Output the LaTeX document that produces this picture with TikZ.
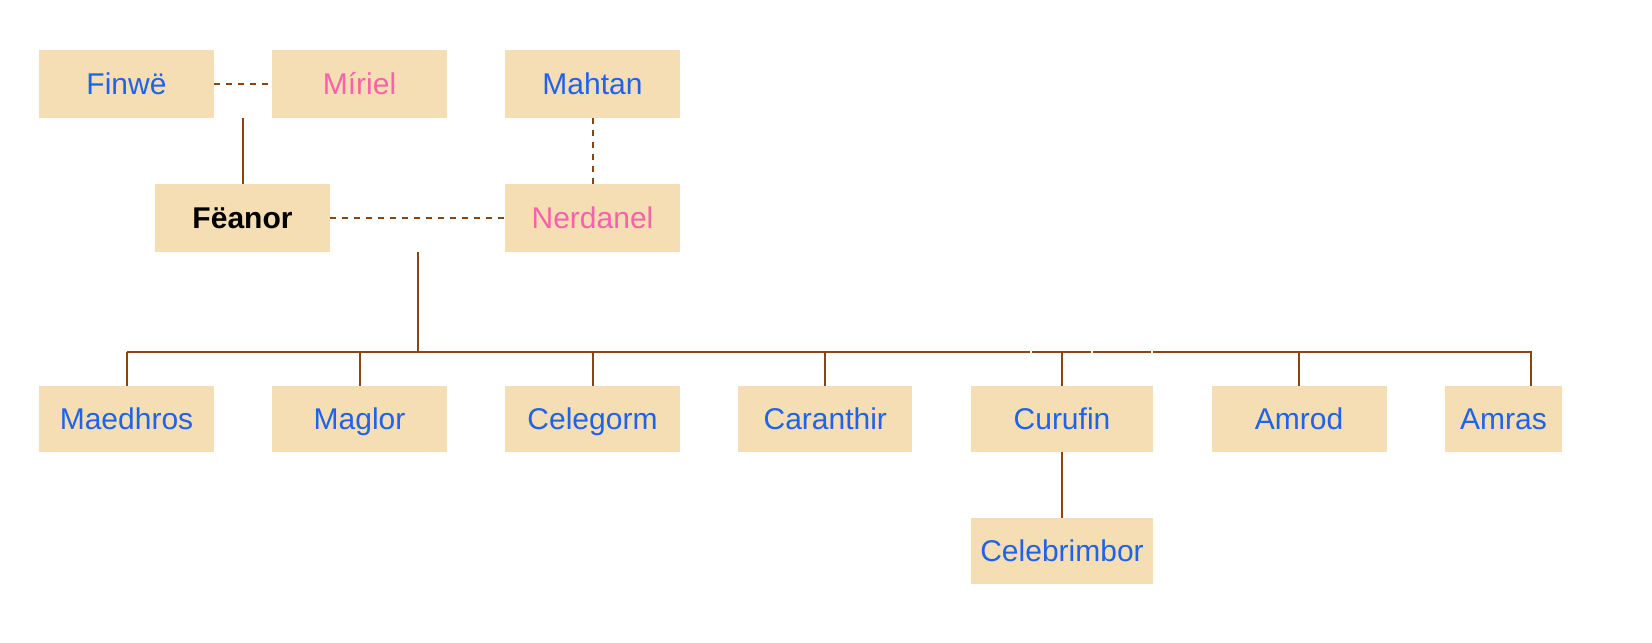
\documentclass[tikz,border=0pt]{standalone}
\usepackage{fontspec}
\setmainfont{Liberation Sans}
\usetikzlibrary{calc}
\definecolor{boxfill}{RGB}{245,222,179}
\definecolor{nameblue}{RGB}{30,99,233}
\definecolor{namepink}{RGB}{247,98,172}
\definecolor{linkbrown}{RGB}{139,69,19}
\tikzset{
  person/.style={fill=boxfill, inner sep=0pt, minimum width=87.5pt, minimum height=33.85pt,
    text height=10.7pt, text depth=0pt,
    text=nameblue, font=\fontsize{15}{18}\selectfont},
  child/.style={person, minimum height=32.85pt},
  female/.style={text=namepink},
  link/.style={draw=linkbrown, line width=1pt},
  partner/.style={link, dash pattern=on 3pt off 3pt},
}
\begin{document}
\begin{tikzpicture}[x=0.5pt,y=-0.5pt]
\useasboundingbox (0,0) rectangle (1652,642);
% parents
\node[person] (finwe) at (126.5,83.8) {Finwë};
\node[person,female] (miriel) at (359.5,83.8) {Míriel};
\node[person] (mahtan) at (592.5,83.8) {Mahtan};
\node[person,text=black,font=\fontsize{15}{18}\selectfont\bfseries] (feanor) at (242.5,217.8) {Fëanor};
\node[person,female] (nerdanel) at (592.5,217.8) {Nerdanel};
% children
\node[child] (maedhros) at (126.5,418.8) {Maedhros};
\node[child] (maglor) at (359.5,418.8) {Maglor};
\node[child] (celegorm) at (592.5,418.8) {Celegorm};
\node[child,minimum width=87pt] (caranthir) at (825.3,418.8) {Caranthir};
\node[child,minimum width=91pt] (curufin) at (1062,418.8) {Curufin};
\node[child] (amrod) at (1299,418.8) {Amrod};
\node[child,minimum width=58.5pt] (amras) at (1503.5,418.8) {Amras};
\node[child,minimum width=91pt] (celebrimbor) at (1062,550.8) {Celebrimbor};
% couples
\draw[partner] (finwe.east) -- (miriel.west);
\draw[partner] (mahtan.south) -- (nerdanel.north);
\draw[partner] (feanor.east) -- (nerdanel.west);
% descent
\coordinate (fm) at ($(finwe.south east)!0.5!(miriel.south west)$);
\draw[link] (fm) -- (fm |- feanor.north);
\coordinate (fn) at ($(feanor.south east)!0.5!(nerdanel.south west)$);
\coordinate (busy) at (0,352);
\draw[link] (fn) -- (fn |- busy);
\coordinate (g1a) at (1030,352);
\coordinate (g1b) at (1032,352);
\coordinate (g2a) at (1091,352);
\coordinate (g2b) at (1093,352);
\coordinate (g3a) at (1151,352);
\coordinate (g3b) at (1153,352);
\coordinate (amrasdrop) at (1531,352);
\draw[link] (maedhros.north |- busy) -- (g1a);
\draw[link] (g1b) -- (g2a);
\draw[link] (g2b) -- (g3a);
\draw[link] (g3b) -- (amrasdrop) -- (amrasdrop |- amras.north);
\foreach \c in {maedhros,maglor,celegorm,caranthir,curufin,amrod}
  \draw[link] (\c.north |- busy) -- (\c.north);
\draw[link] (curufin.south) -- (celebrimbor.north);
\end{tikzpicture}
\end{document}
